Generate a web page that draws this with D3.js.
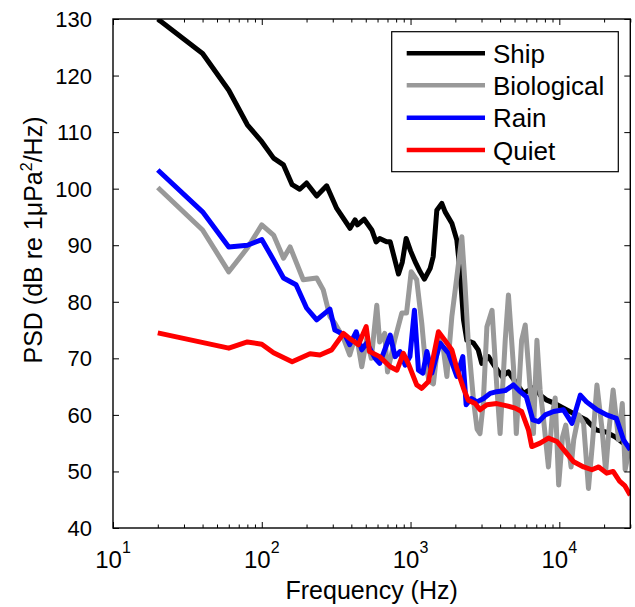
<!DOCTYPE html>
<html>
<head>
<meta charset="utf-8">
<script src="https://cdn.jsdelivr.net/npm/d3@7"></script>
<style>
  html, body { margin: 0; padding: 0; background: #fff; }
  svg { display: block; }
  text { font-family: "Liberation Sans", Arial, Helvetica, sans-serif; fill: #000; }
</style>
</head>
<body>
<svg id="chart" width="635" height="607"></svg>
<script>
// ---------------- data ----------------
const seriesNames = ["Ship", "Biological", "Rain", "Quiet"];
const seriesColors = ["#000000", "#999999", "#0000ff", "#ff0000"];

const shipFreq = [20,40,60,80,100,120,140,160,180,200,234,273,319,392,424,440,488,549,587,620,690,730,830,880,934,1000,1073,1160,1240,1355,1420,1502,1622,1708,1895,2048,2156,2270,2390,2650,2850,3010,3340,3700,4110,4550,5050,5740,6880,7430,8250,9380,11000,13000,15200,17800,20500,23800,27000,30000];
const shipPsd  = [130,123.9,117.4,111.3,108.3,105.4,104.2,100.7,99.9,101,98.7,100.5,96.5,93.0,94.5,93.6,94.6,92.7,90.6,91.2,90.6,90.6,84.9,87,91.2,89,87.1,85.3,84.0,85.9,88,96.2,97.4,95.9,93.9,90.9,85.0,76.8,73.2,72.7,71.5,69.1,70.3,68.5,66.8,67.6,65.9,63.8,65.0,63.5,62.6,62.0,61,60,59.1,57.3,57,56.1,55,54.2];

const bioFreq = [20,40,60,80,100,120,140,155,190,234,259,287,310,355,390,431,470,508,545,593,620,670,700,787,873,940,1010,1100,1190,1250,1330,1425,1540,1665,1755,1895,2048,2212,2320,2440,2650,2800,2930,3080,3260,3530,3800,4000,4330,4550,4920,5140,5580,5900,6210,6700,7070,7430,7800,8450,8960,9380,9900,10500,11050,12000,12500,13500,14560,15700,16700,17900,19400,20500,21500,23000,25000,26500,27700,30000];
const bioPsd  = [100.2,92.7,85.3,89.5,93.6,91.8,87.7,89.7,83.9,84.2,82.1,77.4,76.2,73.5,70.6,74.4,68.5,73.5,70,79.4,72.9,74.4,67.6,73.5,78,78,85.3,83.9,76.2,70,66,65.5,73.5,71.5,66.8,77.4,84.4,91.5,83.3,73.2,62.6,57.5,56.7,62,75.6,78.5,65,56.7,73.2,81.2,68.5,56.7,73.2,75.9,68.5,56.7,73.2,64.4,59.7,50.8,60,63,47.6,56,58.2,50.8,55.6,60,58.5,47.0,55,65.3,57.3,50,57,64.4,55.6,62,50.3,55];

const rainFreq = [20,40,60,80,100,120,140,170,200,234,287,310,363,390,431,470,508,578,620,730,787,850,920,990,1062,1130,1210,1288,1390,1580,1800,2048,2245,2365,2560,2795,3100,3430,3800,4330,4920,5460,6000,6640,7250,8040,9150,10670,12170,13840,15240,17900,20800,24180,27000,30000];
const rainPsd  = [103.3,95.9,89.7,90.0,91.0,87.4,84.2,83.0,78.9,76.8,78.7,75.0,74.1,72.4,74.7,71.5,72.7,70.0,69.1,74.1,70.3,71.2,68.8,70.3,78.5,67.9,67.4,71.2,67.4,72.7,70.9,66.8,70.3,61.8,62.9,62.3,62.9,63.8,64.1,64.3,65.3,64.1,63.2,59.1,58.8,60.0,60.6,60.9,58.5,63.5,62.3,60.9,60.0,59.4,55.6,53.8];

const quietFreq = [20,60,80,100,120,160,211,246,295,354,382,446,503,530,620,730,810,895,965,1100,1190,1320,1425,1540,1700,1895,2048,2270,2440,2720,2930,3260,3800,4450,5050,5580,6210,6530,7430,8450,9640,10970,12500,14560,16550,18400,20800,23000,25400,27500,30000];
const quietPsd  = [74.5,71.8,72.9,72.5,71.0,69.4,70.8,70.6,71.5,74.4,73.7,72.4,75.6,71.2,70.3,68.5,67.9,70.9,69.1,65.3,64.7,65.9,70.3,74.7,73.2,71.5,68.2,64.7,62.6,62.0,60.9,61.8,62.0,61.6,61.2,60.6,57.3,54.4,55.0,55.9,55.3,53.5,51.7,50.8,50.3,50.8,49.7,50.0,48.3,47.5,45.8];

const xMajorTicks = [10, 100, 1000, 10000];
const xMajorExp = ["1", "2", "3", "4"];
const yTicks = [40, 50, 60, 70, 80, 90, 100, 110, 120, 130];
const xLabel = "Frequency (Hz)";

// ---------------- layout ----------------
const svg = d3.select("#chart");
const L = 113, R = 630.3, T = 19, B = 528;

const x = d3.scaleLog().domain([10, 30000]).range([L, R]);
const y = d3.scaleLinear().domain([40, 130]).range([B, T]);

const xMinor = [];
for (let d = 10; d <= 10000; d *= 10) {
  for (let k = 2; k <= 9; k++) { const v = d * k; if (v <= 30000) xMinor.push(v); }
}

// clip
svg.append("defs").append("clipPath").attr("id", "clip")
  .append("rect").attr("x", L).attr("y", T).attr("width", R - L).attr("height", B - T);

// lines
const seriesList = [
  { f: shipFreq, v: shipPsd },
  { f: bioFreq, v: bioPsd },
  { f: rainFreq, v: rainPsd },
  { f: quietFreq, v: quietPsd }
];
const line = d3.line().x(d => x(d[0])).y(d => y(d[1]));
const gLines = svg.append("g").attr("clip-path", "url(#clip)");
seriesList.forEach((s, i) => {
  const pts = s.f.map((f, j) => [f, s.v[j]]);
  gLines.append("path").datum(pts)
    .attr("d", line)
    .attr("fill", "none")
    .attr("stroke", seriesColors[i])
    .attr("stroke-width", 5)
    .attr("stroke-linejoin", "round")
    .attr("stroke-linecap", "butt");
});

// axes (ticks inward)
function styleAxis(g) {
  g.select(".domain").remove();
  g.selectAll(".tick line").attr("stroke", "#000").attr("stroke-width", 1);
}
svg.append("g").attr("transform", `translate(0,${B})`)
  .call(d3.axisBottom(x).tickValues(xMajorTicks).tickSize(-6).tickFormat("")).call(styleAxis);
svg.append("g").attr("transform", `translate(0,${B})`)
  .call(d3.axisBottom(x).tickValues(xMinor).tickSize(-3.5).tickFormat("")).call(styleAxis);
svg.append("g").attr("transform", `translate(0,${T})`)
  .call(d3.axisTop(x).tickValues(xMajorTicks).tickSize(-6).tickFormat("")).call(styleAxis);
svg.append("g").attr("transform", `translate(0,${T})`)
  .call(d3.axisTop(x).tickValues(xMinor).tickSize(-3.5).tickFormat("")).call(styleAxis);
svg.append("g").attr("transform", `translate(${L},0)`)
  .call(d3.axisLeft(y).tickValues(yTicks).tickSize(-6).tickFormat("")).call(styleAxis);
svg.append("g").attr("transform", `translate(${R},0)`)
  .call(d3.axisRight(y).tickValues(yTicks).tickSize(-6).tickFormat("")).call(styleAxis);

// box
svg.append("rect").attr("x", L).attr("y", T).attr("width", R - L).attr("height", B - T)
  .attr("fill", "none").attr("stroke", "#000").attr("stroke-width", 1.4);

// y tick labels
svg.append("g").selectAll("text").data(yTicks).join("text")
  .attr("x", 92).attr("y", d => y(d) + 8)
  .attr("text-anchor", "end").style("font-size", "22px")
  .text(d => d);

// x tick labels with superscripts
const xl = svg.append("g").selectAll("text").data(xMajorTicks).join("text")
  .attr("x", d => x(d)).attr("y", 568)
  .attr("text-anchor", "middle").style("font-size", "24px");
xl.append("tspan").text("10");
xl.append("tspan").attr("dy", -15).style("font-size", "16px").text((d, i) => xMajorExp[i]);

// axis titles
svg.append("text").attr("x", (L + R) / 2).attr("y", 599)
  .attr("text-anchor", "middle").style("font-size", "25px").text(xLabel);

const yl = svg.append("text")
  .attr("transform", `translate(42,240) rotate(-90)`)
  .attr("text-anchor", "middle").style("font-size", "25px");
yl.append("tspan").text("PSD (dB re 1\u03BCPa");
yl.append("tspan").attr("dy", -10).style("font-size", "16px").text("2");
yl.append("tspan").attr("dy", 10).text("/Hz)");

// legend
const lg = svg.append("g");
lg.append("rect").attr("x", 391.7).attr("y", 31.7).attr("width", 226.6).attr("height", 140)
  .attr("fill", "#fff").attr("stroke", "#000").attr("stroke-width", 1.2);
const rowsY = [53.3, 85.3, 117.8, 150];
seriesNames.forEach((name, i) => {
  lg.append("line").attr("x1", 406.7).attr("x2", 485)
    .attr("y1", rowsY[i]).attr("y2", rowsY[i])
    .attr("stroke", seriesColors[i]).attr("stroke-width", 4.5);
  lg.append("text").attr("x", 493).attr("y", rowsY[i] + 9.5)
    .style("font-size", "26px").text(name);
});
</script>
</body>
</html>
